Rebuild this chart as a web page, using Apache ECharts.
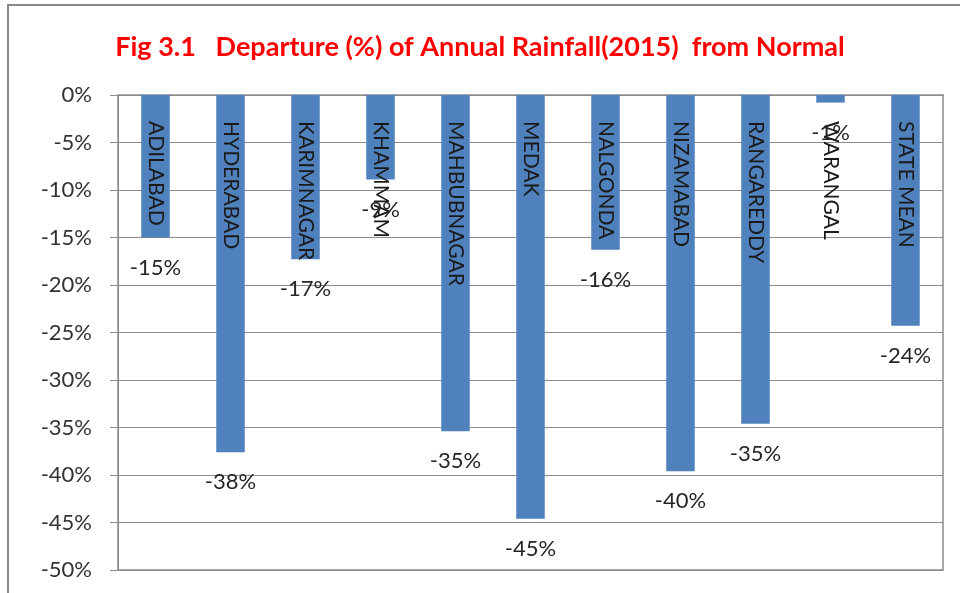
<!DOCTYPE html>
<html>
<head>
<meta charset="utf-8">
<script src="https://cdn.jsdelivr.net/npm/echarts@6/dist/echarts.min.js"></script>
<style>html,body{margin:0;padding:0;background:#fff;}#c{width:960px;height:593px;}</style>
</head>
<body>
<div id="c"></div>
<script>
const categories = ['ADILABAD','HYDERABAD','KARIMNAGAR','KHAMMAM','MAHBUBNAGAR','MEDAK','NALGONDA','NIZAMABAD','RANGAREDDY','WARANGAL','STATE MEAN'];
const departure = [-15.0, -37.6, -17.3, -8.9, -35.4, -44.6, -16.3, -39.6, -34.6, -0.8, -24.3];
const yTicks = {min: -50, max: 0, interval: 5};
const titleText = 'Fig 3.1   Departure (%) of Annual Rainfall(2015)  from Normal';

const chart = echarts.init(document.getElementById('c'), null, {renderer: 'canvas'});
const font = 'Lato, "Open Sans", sans-serif';
chart.setOption({
  backgroundColor: '#ffffff',
  animation: false,
  title: {
    text: titleText, left: 'center', top: 29,
    textStyle: {color: '#ff0000', fontSize: 27, fontWeight: 'bold', fontFamily: font}
  },
  grid: {left: 118, right: 17, top: 95, bottom: 23, show: true, borderColor: '#8c8c8c', borderWidth: 1.5},
  graphic: [{
    type: 'rect', shape: {x: 8, y: 5, width: 1000, height: 700},
    style: {fill: 'none', stroke: '#8a8a8a', lineWidth: 2}, silent: true
  }],
  xAxis: {
    type: 'category', data: categories,
    axisLine: {onZero: true, lineStyle: {color: '#8c8c8c'}},
    axisTick: {inside: true, length: 6, lineStyle: {color: '#8c8c8c'}},
    axisLabel: {show: false}
  },
  yAxis: {
    type: 'value', min: yTicks.min, max: yTicks.max, interval: yTicks.interval,
    axisLine: {show: true, lineStyle: {color: '#8c8c8c'}},
    axisTick: {show: true, length: 8, lineStyle: {color: '#8c8c8c'}},
    splitLine: {lineStyle: {color: '#8c8c8c', width: 1}},
    axisLabel: {formatter: v => v + '%', fontSize: 22, color: '#333333', fontFamily: font, margin: 26}
  },
  series: [{
    type: 'bar', data: departure, barWidth: '38%', barGap: '-100%',
    itemStyle: {color: '#4F81BD'},
    label: {
      show: true, position: 'insideTop', rotate: -90, align: 'left', verticalAlign: 'middle',
      distance: 26, formatter: p => categories[p.dataIndex],
      fontSize: 21, color: '#1a1a1a', fontFamily: font
    }
  }, {
    type: 'bar', data: departure, barWidth: '38%', barGap: '-100%',
    itemStyle: {color: 'rgba(0,0,0,0)'},
    label: {
      show: true, position: 'bottom', distance: 19,
      formatter: p => Math.round(p.value) + '%',
      fontSize: 22, color: '#262626', fontFamily: font
    }
  }]
});
</script>
</body>
</html>
